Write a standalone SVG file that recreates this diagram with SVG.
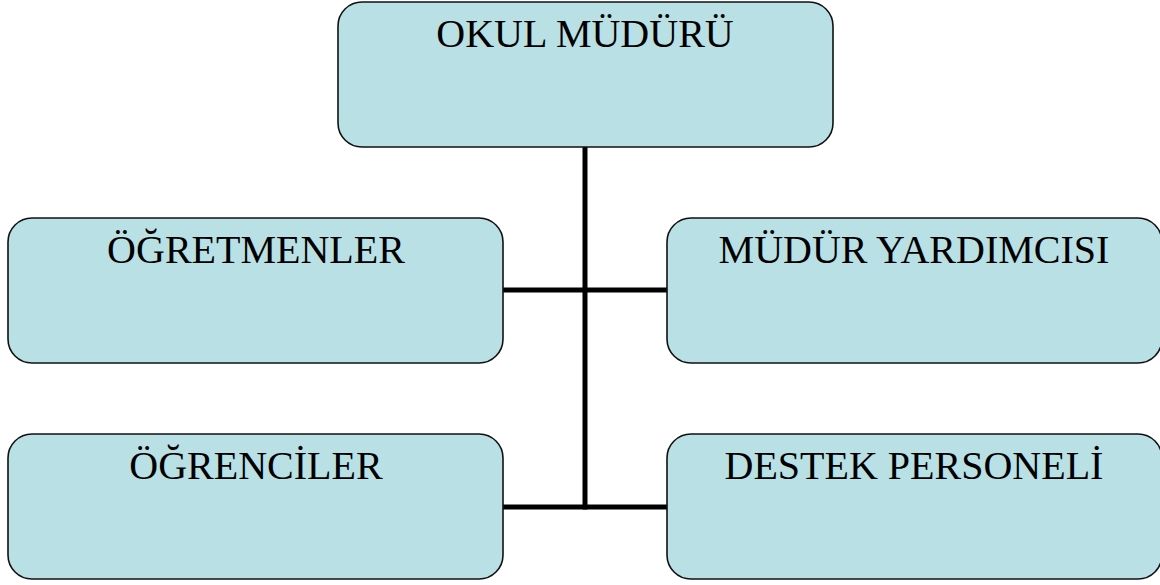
<svg xmlns="http://www.w3.org/2000/svg" width="1160" height="585" viewBox="0 0 1160 585">
<style>
.box{fill:#B9E0E4;stroke:#111;stroke-width:1.6}
.lbl{font-family:"Liberation Serif","Times New Roman",serif;font-size:40px;fill:#000;text-anchor:middle}
.conn{stroke:#000;stroke-width:5;fill:none}
</style>
<rect width="1160" height="585" fill="#fff"/>
<g id="connectors">
<line class="conn" x1="585" y1="147" x2="585" y2="509.5"/>
<line class="conn" x1="503" y1="290" x2="667" y2="290"/>
<line class="conn" x1="503" y1="507" x2="585" y2="507"/>
<line class="conn" x1="585" y1="507" x2="667" y2="507"/>
</g>
<g id="okul-muduru">
<rect class="box" x="338" y="2" width="495" height="145" rx="24"/>
<text class="lbl" x="585" y="47">OKUL MÜDÜRÜ</text>
</g>
<g id="ogretmenler">
<rect class="box" x="8" y="218" width="495" height="145" rx="24"/>
<text class="lbl" x="256" y="263">ÖĞRETMENLER</text>
</g>
<g id="mudur-yardimcisi">
<rect class="box" x="667" y="218" width="495" height="145" rx="24"/>
<text class="lbl" x="914" y="263">MÜDÜR YARDIMCISI</text>
</g>
<g id="ogrenciler">
<rect class="box" x="8" y="434" width="495" height="145" rx="24"/>
<text class="lbl" x="256" y="479">ÖĞRENCİLER</text>
</g>
<g id="destek-personeli">
<rect class="box" x="667" y="434" width="495" height="145" rx="24"/>
<text class="lbl" x="914" y="479">DESTEK PERSONELİ</text>
</g>
</svg>
